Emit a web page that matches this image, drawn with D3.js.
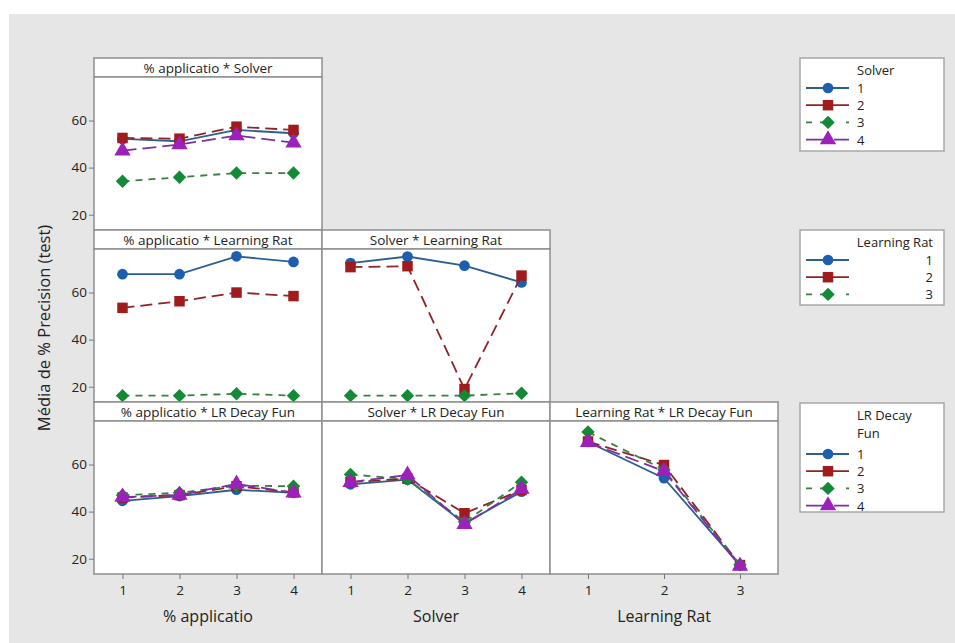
<!DOCTYPE html>
<html>
<head>
<meta charset="utf-8">
<script src="https://cdnjs.cloudflare.com/ajax/libs/d3/7.8.5/d3.min.js"></script>
<style>
  body { margin: 0; background: #fff; }
  text { font-family: "Open Sans", "Noto Sans", sans-serif; fill: #222; }
</style>
</head>
<body>
<div id="chart"></div>
<script>
// factor levels
const applicLevels = [1, 2, 3, 4];
const solverLevels = [1, 2, 3, 4];
const lrLevels = [1, 2, 3];
const decayLevels = [1, 2, 3, 4];
const yTicks = [20, 40, 60];

// means, one array per level of the trace factor
const applicBySolver = [
    [52.2, 51.2, 56.0, 54.6],
    [52.6, 52.3, 57.4, 56.0],
    [34.2, 35.9, 37.7, 37.7],
    [47.2, 49.8, 53.6, 50.6]
];
const applicByLr = [
    [67.8, 67.8, 75.4, 73.0],
    [53.5, 56.3, 60.0, 58.5],
    [16.2, 16.2, 17.0, 16.2]
];
const solverByLr = [
    [72.5, 75.3, 71.4, 64.3],
    [70.8, 71.2, 19.0, 67.2],
    [16.2, 16.2, 16.2, 17.2]
];
const applicByDecay = [
    [44.6, 46.6, 49.3, 48.0],
    [46.0, 47.0, 50.8, 48.2],
    [47.0, 48.0, 51.0, 50.8],
    [46.2, 47.0, 51.8, 48.0]
];
const solverByDecay = [
    [51.6, 53.6, 35.0, 48.5],
    [52.5, 54.0, 39.3, 49.2],
    [55.8, 53.8, 35.6, 52.5],
    [52.5, 55.6, 34.6, 49.6]
];
const lrByDecay = [
    [69.6, 54.2, 17.2],
    [69.8, 59.8, 17.3],
    [73.8, 57.8, 17.4],
    [69.4, 57.2, 16.9]
];

const width = 955, height = 643;
const colX = [94, 322, 550];
const colW = 228;
const rowY = [58, 230, 402];
const titleH = 19, plotH = 153;

const lineColors = ['#2c5f90', '#8e2424', '#3a7f44', '#7e2ea2'];
const markColors = ['#1d5fae', '#a01b1b', '#148a36', '#9c20b9'];
const dashes = [null, '12,6', '7,6', '14,6'];
const legendDashes = [null, null, '6,8,12,14', '22,6'];
const shapes = [d3.symbolCircle, d3.symbolSquare, d3.symbolSquare, d3.symbolTriangle];
const sizes = [90, 110, 90, 115];
const rotate = [0, 0, 45, 0];

const panels = [
    { row: 0, col: 0, title: '% applicatio * Solver', levels: applicLevels, data: applicBySolver },
    { row: 1, col: 0, title: '% applicatio * Learning Rat', levels: applicLevels, data: applicByLr },
    { row: 1, col: 1, title: 'Solver * Learning Rat', levels: solverLevels, data: solverByLr },
    { row: 2, col: 0, title: '% applicatio * LR Decay Fun', levels: applicLevels, data: applicByDecay },
    { row: 2, col: 1, title: 'Solver * LR Decay Fun', levels: solverLevels, data: solverByDecay },
    { row: 2, col: 2, title: 'Learning Rat * LR Decay Fun', levels: lrLevels, data: lrByDecay }
];
const xTitles = ['% applicatio', 'Solver', 'Learning Rat'];

const svg = d3.select('#chart')
    .append('svg')
    .attr('width', width)
    .attr('height', height);

// gray backdrop
svg.append('rect')
    .attr('x', 9).attr('y', 14)
    .attr('width', width - 9).attr('height', height - 14)
    .attr('fill', '#e6e6e6');

function drawMarker(g, i, x, y) {
    g.append('path')
        .attr('d', d3.symbol().type(shapes[i]).size(sizes[i]))
        .attr('transform', `translate(${x},${y}) rotate(${rotate[i]})`)
        .attr('fill', markColors[i]);
}

function styleAxis(ax) {
    ax.select('.domain').remove();
    ax.selectAll('line').attr('stroke', '#777');
    ax.selectAll('text')
        .attr('font-size', 13.5)
        .attr('font-family', '"Open Sans", sans-serif')
        .attr('fill', '#222');
}

panels.forEach(p => {
    const x0 = colX[p.col];
    const top = rowY[p.row];
    const plotTop = top + titleH;
    const g = svg.append('g');

    // title strip
    g.append('rect')
        .attr('x', x0).attr('y', top)
        .attr('width', colW).attr('height', titleH)
        .attr('fill', '#fff').attr('stroke', '#8f8f8f').attr('stroke-width', 1.5);
    g.append('text')
        .attr('x', x0 + colW / 2).attr('y', top + 14.5)
        .attr('text-anchor', 'middle')
        .attr('font-size', 13.5)
        .text(p.title);

    // plot area
    g.append('rect')
        .attr('x', x0).attr('y', plotTop)
        .attr('width', colW).attr('height', plotH)
        .attr('fill', '#fff').attr('stroke', '#8f8f8f').attr('stroke-width', 1.5);

    const x = d3.scaleLinear()
        .domain([0.5, p.levels.length + 0.5])
        .range([x0, x0 + colW]);
    const y = d3.scaleLinear()
        .domain([13.5, 78.5])
        .range([plotTop + plotH, plotTop]);

    if (p.col === 0) {
        const ax = g.append('g')
            .attr('transform', `translate(${x0},0)`)
            .call(d3.axisLeft(y).tickValues(yTicks).tickSize(5).tickPadding(2));
        styleAxis(ax);
    }
    if (p.row === 2) {
        const ax = g.append('g')
            .attr('transform', `translate(0,${plotTop + plotH})`)
            .call(d3.axisBottom(x).tickValues(p.levels).tickFormat(d3.format('d')).tickSize(5).tickPadding(6));
        styleAxis(ax);
        g.append('text')
            .attr('x', x0 + colW / 2).attr('y', 622)
            .attr('text-anchor', 'middle')
            .attr('font-size', 16)
            .text(xTitles[p.col]);
    }

    const line = d3.line()
        .x((d, j) => x(p.levels[j]))
        .y(d => y(d));

    p.data.forEach((series, i) => {
        g.append('path')
            .datum(series)
            .attr('fill', 'none')
            .attr('stroke', lineColors[i])
            .attr('stroke-width', 1.8)
            .attr('stroke-dasharray', dashes[i])
            .attr('d', line);
        series.forEach((v, j) => drawMarker(g, i, x(p.levels[j]), y(v)));
    });
});

// y axis title
svg.append('text')
    .attr('transform', `translate(50,${(rowY[0] + rowY[2] + titleH + plotH) / 2 + 12}) rotate(-90)`)
    .attr('text-anchor', 'middle')
    .attr('font-size', 16.5)
    .text('Média de % Precision (test)');

// legends
const legends = [
    { top: 58, h: 93, title: ['Solver'], levels: solverLevels, right: false, first: 88 },
    { top: 230, h: 75, title: ['Learning Rat'], levels: lrLevels, right: true, first: 260 },
    { top: 403, h: 109, title: ['LR Decay', 'Fun'], levels: decayLevels, right: false, first: 454 }
];

legends.forEach(l => {
    const g = svg.append('g');
    g.append('rect')
        .attr('x', 800).attr('y', l.top)
        .attr('width', 144).attr('height', l.h)
        .attr('fill', '#fff').attr('stroke', '#a8a8a8').attr('stroke-width', 1.5);
    l.title.forEach((t, k) => {
        g.append('text')
            .attr('x', l.right ? 933 : 857)
            .attr('y', l.top + 17 + k * 18)
            .attr('text-anchor', l.right ? 'end' : 'start')
            .attr('font-size', 13)
            .text(t);
    });
    l.levels.forEach((lv, i) => {
        const yy = l.first + i * 17.2;
        g.append('line')
            .attr('x1', 806).attr('x2', 849)
            .attr('y1', yy).attr('y2', yy)
            .attr('stroke', lineColors[i])
            .attr('stroke-width', 1.8)
            .attr('stroke-dasharray', legendDashes[i]);
        drawMarker(g, i, 828, yy);
        g.append('text')
            .attr('x', l.right ? 933 : 857)
            .attr('y', yy + 5)
            .attr('text-anchor', l.right ? 'end' : 'start')
            .attr('font-size', 13)
            .text(lv);
    });
});
</script>
</body>
</html>
